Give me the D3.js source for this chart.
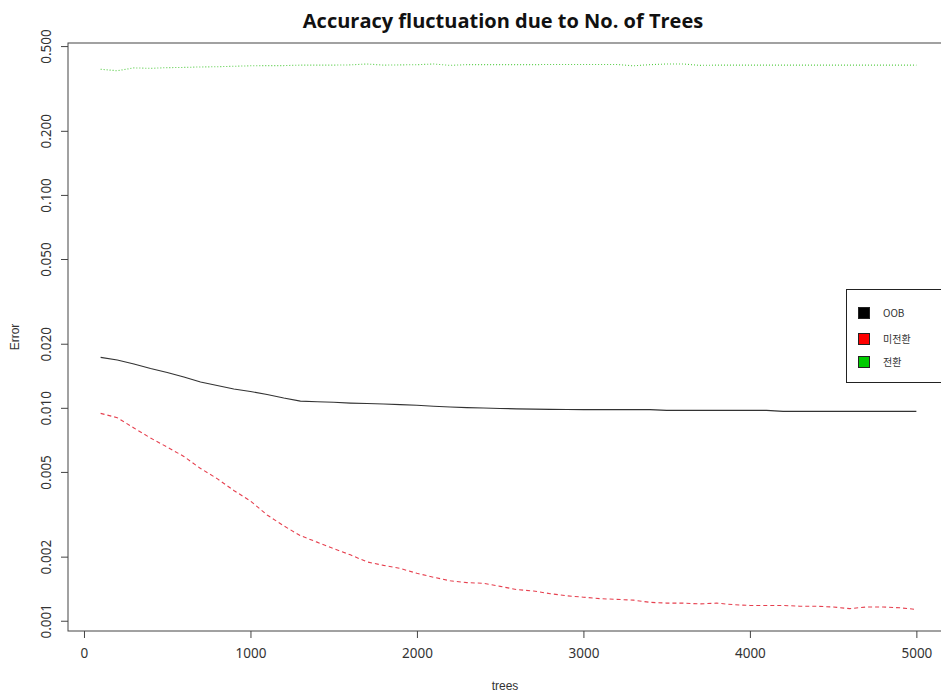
<!DOCTYPE html>
<html>
<head>
<meta charset="utf-8">
<script src="https://cdn.jsdelivr.net/npm/d3@7"></script>
<style>
  html, body { margin: 0; padding: 0; background: #fff; }
  svg { display: block; }
</style>
</head>
<body>
<svg id="chart" width="941" height="692"></svg>
<script>
// ---- data ----
const trees = [100,200,300,400,500,600,700,800,900,1000,1100,1200,1300,1400,1500,1600,1700,1800,1900,2000,
  2100,2200,2300,2400,2500,2600,2700,2800,2900,3000,3100,3200,3300,3400,3500,3600,3700,3800,3900,4000,
  4100,4200,4300,4400,4500,4600,4700,4800,4900,5000];
const oobErr = [0.01727,0.01677,0.01606,0.01530,0.01465,0.01395,0.01322,0.01273,0.01226,0.01193,
  0.01155,0.01112,0.01076,0.01068,0.01062,0.01053,0.01048,0.01042,0.01035,0.01028,
  0.01017,0.01009,0.01002,0.00998,0.00993,0.00989,0.00986,0.00984,0.00982,0.00980,
  0.00980,0.00980,0.00980,0.00980,0.00973,0.00973,0.00973,0.00973,0.00973,0.00973,
  0.00973,0.00963,0.00963,0.00963,0.00963,0.00963,0.00963,0.00963,0.00963,0.00963];
const nonConvErr = [0.00942,0.00899,0.00804,0.00721,0.00654,0.00591,0.00519,0.00465,0.00409,0.00365,
  0.00314,0.00279,0.00251,0.00234,0.00218,0.00204,0.00189,0.00182,0.00176,0.00167,
  0.00160,0.00154,0.00151,0.00150,0.00145,0.00140,0.00138,0.00134,0.00131,0.00129,
  0.00127,0.00126,0.00125,0.00122,0.00121,0.00121,0.00120,0.00121,0.00119,0.00118,
  0.00118,0.00118,0.00117,0.00117,0.00116,0.00114,0.00116,0.00116,0.00115,0.00113];
const convErr = [0.389,0.383,0.395,0.393,0.396,0.397,0.399,0.400,0.402,0.404,
  0.405,0.405,0.407,0.407,0.407,0.408,0.412,0.407,0.408,0.409,
  0.412,0.406,0.409,0.409,0.409,0.409,0.409,0.410,0.410,0.410,
  0.410,0.410,0.404,0.409,0.412,0.412,0.406,0.407,0.407,0.407,
  0.407,0.407,0.407,0.407,0.407,0.407,0.407,0.407,0.407,0.407];
const seriesNames = ["OOB", "미전환", "전환"];
const xTicks = [0,1000,2000,3000,4000,5000];
const yTicks = [0.001,0.002,0.005,0.01,0.02,0.05,0.1,0.2,0.5];
const yTickLabels = ["0.001","0.002","0.005","0.010","0.020","0.050","0.100","0.200","0.500"];
const titleText = "Accuracy fluctuation due to No. of Trees";
const xLabel = "trees";
const yLabel = "Error";

// ---- layout ----
const svg = d3.select("#chart");
const L = 68, R = 949, T = 43, B = 631;
const x = d3.scaleLinear().domain([-96, 5196]).range([L, R]);
const y = d3.scaleLog().domain([0.000895, 0.517]).range([B, T]);
const axisCol = "#444";
const textCol = "#333";
const font = "'Noto Sans', 'Liberation Sans', sans-serif";

svg.append("defs").append("clipPath").attr("id", "clip")
  .append("rect").attr("x", L).attr("y", T).attr("width", R - L).attr("height", B - T);

// title
svg.append("text").attr("x", 503).attr("y", 28).attr("text-anchor", "middle")
  .attr("font-family", "'Open Sans', 'Noto Sans', sans-serif").attr("font-weight", "bold")
  .attr("font-size", 20).attr("fill", "#111").text(titleText);

// axes
const xAxis = d3.axisBottom(x).tickValues(xTicks).tickSize(7).tickPadding(10).tickFormat(d3.format("d"));
const gx = svg.append("g").attr("transform", `translate(0,${B})`).call(xAxis);
gx.select(".domain").remove();
gx.selectAll("line").attr("stroke", axisCol);
gx.selectAll("text").attr("font-family", font).attr("font-size", 13.5).attr("fill", textCol);

const yAxis = d3.axisLeft(y).tickValues(yTicks).tickSize(7)
  .tickFormat((d, i) => yTickLabels[i]);
const gy = svg.append("g").attr("transform", `translate(${L},0)`).call(yAxis);
gy.select(".domain").remove();
gy.selectAll("line").attr("stroke", axisCol);
gy.selectAll("text")
  .attr("font-family", font).attr("font-size", 13.5).attr("fill", textCol)
  .attr("text-anchor", "middle")
  .attr("x", null)
  .attr("transform", "translate(-22,0) rotate(-90)")
  .attr("dy", "0.35em");

// plot box
svg.append("rect").attr("x", L).attr("y", T).attr("width", R - L).attr("height", B - T)
  .attr("fill", "none").attr("stroke", axisCol).attr("stroke-width", 1);

// axis labels
svg.append("text").attr("x", 505).attr("y", 690).attr("text-anchor", "middle")
  .attr("font-family", "'Liberation Sans', sans-serif").attr("font-size", 12).attr("fill", textCol).text(xLabel);
svg.append("text").attr("transform", `translate(19,${(T + B) / 2}) rotate(-90)`).attr("text-anchor", "middle")
  .attr("font-family", "'Liberation Sans', sans-serif").attr("font-size", 12).attr("fill", textCol).text(yLabel);

// lines
const series = [
  { vals: oobErr, color: "#333", dash: null, w: 1.2 },
  { vals: nonConvErr, color: "#E6404F", dash: "4,3", w: 1.1 },
  { vals: convErr, color: "#55CC45", dash: "1,2", w: 1.1 }
];
const line = d3.line().x((d, i) => x(trees[i])).y(d => y(d));
const gl = svg.append("g").attr("clip-path", "url(#clip)");
series.forEach(s => {
  gl.append("path").datum(s.vals).attr("d", line).attr("fill", "none")
    .attr("stroke", s.color).attr("stroke-width", s.w)
    .attr("stroke-dasharray", s.dash);
});

// legend
const legendColors = ["#000000", "#FF0000", "#00CC00"];
const lg = svg.append("g");
lg.append("rect").attr("x", 846.5).attr("y", 289.5).attr("width", 120).attr("height", 93)
  .attr("fill", "#fff").attr("stroke", "#222").attr("stroke-width", 1);
const rowsY = [313, 339, 362];
seriesNames.forEach((n, i) => {
  lg.append("rect").attr("x", 858.5).attr("y", rowsY[i] - 5.5).attr("width", 11).attr("height", 11)
    .attr("fill", legendColors[i]).attr("stroke", "#222").attr("stroke-width", 1);
  lg.append("text").attr("x", 883).attr("y", rowsY[i]).attr("dy", "0.35em")
    .attr("font-family", "'Noto Sans CJK KR', 'Noto Sans', sans-serif").attr("font-size", 10)
    .attr("fill", textCol).text(n);
});
</script>
</body>
</html>
